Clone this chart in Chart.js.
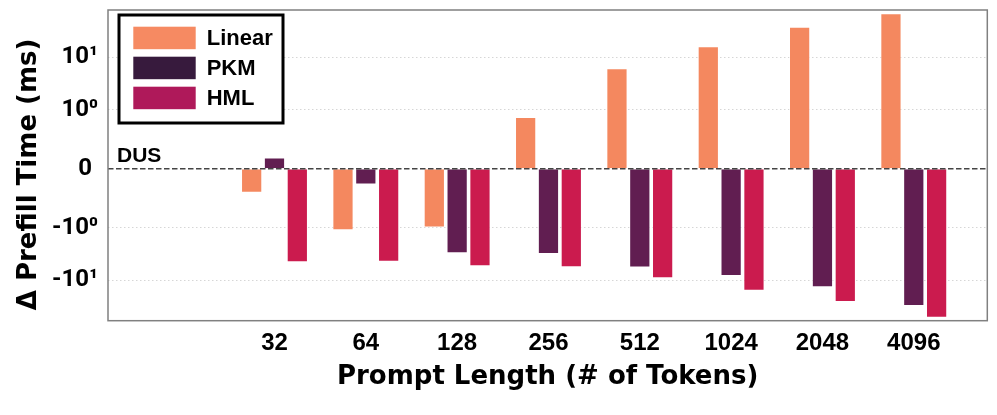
<!DOCTYPE html>
<html>
<head>
<meta charset="utf-8">
<script src="https://cdn.jsdelivr.net/npm/chart.js@4.4.1/dist/chart.umd.min.js"></script>
<style>
  body { margin: 0; background: #fff; }
  #wrap { width: 997px; height: 415px; }
</style>
</head>
<body>
<div id="wrap"><canvas id="prefillChart"></canvas></div>
<script>
const promptLengths = ['32', '64', '128', '256', '512', '1024', '2048', '4096'];
const seriesLabels = ['Linear', 'PKM', 'HML'];

// delta prefill time vs DUS, ms (symlog axis)
const linearDelta = [-0.41, -1.13, -1.0, 0.88, 6.2, 16.3, 38.4, 69.2];
const pkmDelta = [0.19, -0.27, -3.1, -3.2, -5.8, -8.4, -13.8, -31.3];
const hmlDelta = [-4.6, -4.5, -5.5, -5.7, -9.3, -16.0, -26.3, -52.2];

const yTickValues = [-10, -1, 0, 1, 10];
const yTickLabels = ['-10\u00B9', '-10\u2070', '0 ', '10\u2070', '10\u00B9'];

const barColors = ['#F4885F', '#611E51', '#CB1B4E'];
const legendColors = ['#F68A62', '#371A3D', '#AF195A'];

const LIN = 1.12; // size of the linear band (|v| <= 1) in decades

function symlog(v) {
    const a = Math.abs(v);
    if (a <= 1) return v * LIN;
    return Math.sign(v) * (LIN + Math.log10(a));
}

function symexp(t) {
    const a = Math.abs(t);
    if (a <= LIN) return t / LIN;
    return Math.sign(t) * Math.pow(10, a - LIN);
}

class SymlogScale extends Chart.LinearScale {
    buildTicks() {
        return yTickValues.map(v => ({ value: v }));
    }
    getPixelForValue(value) {
        const lo = symlog(this.min), hi = symlog(this.max);
        return this.getPixelForDecimal((symlog(value) - lo) / (hi - lo));
    }
    getValueForPixel(pixel) {
        const lo = symlog(this.min), hi = symlog(this.max);
        return symexp(lo + this.getDecimalForPixel(pixel) * (hi - lo));
    }
}
SymlogScale.id = 'symlog';
SymlogScale.defaults = {};
Chart.register(SymlogScale);

const overlayPlugin = {
    id: 'overlay',
    afterDatasetsDraw(chart) {
        const { ctx, chartArea: a, scales: { y } } = chart;
        const y0 = y.getPixelForValue(0);
        ctx.save();
        ctx.strokeStyle = '#444';
        ctx.lineWidth = 1.6;
        ctx.setLineDash([5.5, 2.5]);
        ctx.beginPath();
        ctx.moveTo(a.left, y0);
        ctx.lineTo(a.right, y0);
        ctx.stroke();
        ctx.setLineDash([]);
        ctx.fillStyle = '#000';
        ctx.font = 'bold 21px "Liberation Sans", Arial, sans-serif';
        ctx.textBaseline = 'alphabetic';
        ctx.textAlign = 'left';
        ctx.fillText('DUS', a.left + 9, y0 - 7);
        ctx.restore();
    },
    afterDraw(chart) {
        const { ctx, chartArea: a } = chart;
        ctx.save();
        // frame
        ctx.strokeStyle = '#808080';
        ctx.lineWidth = 1.5;
        ctx.strokeRect(a.left, a.top, a.right - a.left, a.bottom - a.top);

        // legend box
        const bx = a.left + 11, by = a.top + 5;
        ctx.fillStyle = '#fff';
        ctx.fillRect(bx, by, 164, 108);
        ctx.strokeStyle = '#000';
        ctx.lineWidth = 3;
        ctx.strokeRect(bx, by, 164, 108);
        ctx.font = 'bold 22px "Liberation Sans", Arial, sans-serif';
        ctx.textBaseline = 'middle';
        ctx.textAlign = 'left';
        seriesLabels.forEach((label, i) => {
            const top = by + 11.7 + i * 30;
            ctx.fillStyle = legendColors[i];
            ctx.fillRect(bx + 14.3, top, 62.4, 22.5);
            ctx.fillStyle = '#000';
            ctx.fillText(label, bx + 87.7, top + 12);
        });
        ctx.restore();
    }
};

const series = [linearDelta, pkmDelta, hmlDelta];

new Chart(document.getElementById('prefillChart'), {
    type: 'bar',
    data: {
        datasets: series.map((vals, i) => ({
            label: seriesLabels[i],
            data: vals.map((v, k) => ({ x: k + 1, y: v })),
            backgroundColor: barColors[i],
            borderColor: 'rgba(255,255,255,0.45)',
            borderWidth: 1,
            categoryPercentage: 0.75,
            barPercentage: 0.93
        }))
    },
    plugins: [overlayPlugin],
    options: {
        responsive: true,
        maintainAspectRatio: false,
        animation: false,
        layout: { padding: { top: 10, right: 9.7, bottom: 0, left: 0 } },
        plugins: {
            legend: { display: false },
            tooltip: { enabled: false }
        },
        scales: {
            x: {
                type: 'linear',
                min: -0.823,
                max: 8.805,
                offset: false,
                grid: { display: false, offset: false, drawTicks: false },
                border: { display: false },
                ticks: {
                    stepSize: 1,
                    includeBounds: false,
                    autoSkip: false,
                    maxRotation: 0,
                    padding: 8,
                    color: '#000',
                    font: { family: '"Liberation Sans", Arial, sans-serif', size: 24, weight: 'bold' },
                    callback: v => promptLengths[v - 1] || ''
                },
                title: {
                    display: true,
                    text: 'Prompt Length (# of Tokens)',
                    color: '#000',
                    font: { family: '"DejaVu Sans", sans-serif', size: 26, weight: 'bold' },
                    padding: { top: 0, bottom: 22 }
                },
                afterFit: scale => {
                    scale.height = 94.3;
                    scale.paddingLeft = 0;
                    scale.paddingRight = 0;
                }
            },
            y: {
                type: 'symlog',
                min: -59.6,
                max: 80,
                grid: {
                    drawTicks: false,
                    lineWidth: 1,
                    color: ctx => (ctx.tick && ctx.tick.value === 0) ? 'rgba(0,0,0,0)' : '#d6d6d6'
                },
                border: { display: false, dash: [1.5, 2.5] },
                ticks: {
                    padding: 10,
                    color: '#000',
                    font: { family: 'Roboto, "Liberation Sans", sans-serif', size: 24, weight: 'bold' },
                    callback: v => yTickLabels[yTickValues.indexOf(v)]
                },
                title: {
                    display: true,
                    text: '\u0394 Prefill Time (ms)  ',
                    color: '#000',
                    font: { family: '"DejaVu Sans", sans-serif', size: 26, weight: 'bold' },
                    padding: { top: 14, bottom: 0 }
                },
                afterFit: scale => {
                    scale.width = 108;
                    scale.paddingTop = 0;
                    scale.paddingBottom = 0;
                }
            }
        }
    }
});
</script>
</body>
</html>
